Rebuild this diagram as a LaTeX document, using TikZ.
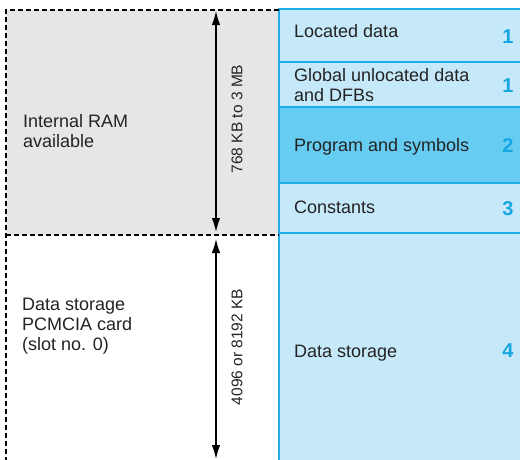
\documentclass[tikz,border=0pt]{standalone}
\usepackage{fontspec}
\setmainfont{Liberation Sans}
\usetikzlibrary{arrows.meta}
\definecolor{ramgray}{HTML}{E6E6E6}
\definecolor{rowblue}{HTML}{C6E9F9}
\definecolor{rowdark}{HTML}{67CCF2}
\definecolor{edgeblue}{HTML}{1FAEE9}
\definecolor{numblue}{HTML}{16A6E2}
\definecolor{txt}{HTML}{232323}
\begin{document}
\begin{tikzpicture}[x=1pt,y=-1pt,
 rowbox/.style={draw=edgeblue,line width=1.2pt,minimum width=260pt,anchor=north west,inner sep=0pt,outer sep=0pt},
 lbl/.style={anchor=base west,inner sep=0pt,text=txt,font=\fontsize{18}{20}\selectfont,align=left},
 num/.style={anchor=base,inner sep=0pt,text=numblue,font=\fontsize{20}{20}\selectfont\bfseries},
 dim/.style={{Latex[length=14pt,width=8.5pt]}-{Latex[length=14pt,width=8.5pt]},line width=1.4pt},
 dimlbl/.style={rotate=90,inner sep=0pt,text=txt,font=\fontsize{15.5}{17}\selectfont},
 sepline/.style={dash pattern=on 5pt off 3pt,line width=1.1pt}]
\useasboundingbox (0,0) rectangle (520,459);
\begin{scope}
\clip (0,0) rectangle (520,459);
\fill[ramgray] (6,10) rectangle (279,235);
\node[rowbox,fill=rowblue,minimum height=53pt] (r1) at (279,9) {};
\node[rowbox,fill=rowblue,minimum height=45pt] (r2) at (279,62) {};
\node[rowbox,fill=rowdark,minimum height=76pt] (r3) at (279,107) {};
\node[rowbox,fill=rowblue,minimum height=50pt] (r4) at (279,183) {};
\node[rowbox,fill=rowblue,minimum height=240pt] (r5) at (279,233) {};
\coordinate (tl) at (6,10);
\coordinate (tr) at (279,10);
\coordinate (ml) at (6,235);
\coordinate (mr) at (279,235);
\coordinate (bl) at (6,462);
\draw[sepline] (bl) -- (tl) -- (tr);
\draw[sepline] (ml) -- (mr);
\coordinate (a1) at (216,11);
\coordinate (a2) at (216,232);
\coordinate (a3) at (216,239);
\coordinate (a4) at (216,459);
\draw[dim] (a1) -- (a2);
\draw[dim] (a3) -- (a4);
\end{scope}
\node[dimlbl] (d1) at (237,119) {768 KB to 3 MB};
\node[dimlbl] (d2) at (237,347) {4096 or 8192 KB};
\node[lbl] (t0) at (23,147) {Internal RAM\\available};
\node[lbl] (t00) at (22,350) {Data storage\\PCMCIA card\\(slot no. 0)};
\node[lbl] (t1) at (294,37) {Located data};
\node[lbl] (t2) at (294,101) {Global unlocated data\\and DFBs};
\node[lbl] (t3) at (294,151) {Program and symbols};
\node[lbl] (t4) at (294,213) {Constants};
\node[lbl] (t5) at (294,357) {Data storage};
\node[num] (n1) at (508,43) {1};
\node[num] (n2) at (508,92) {1};
\node[num] (n3) at (508,152) {2};
\node[num] (n4) at (508,215) {3};
\node[num] (n5) at (508,357) {4};
\end{tikzpicture}
\end{document}
